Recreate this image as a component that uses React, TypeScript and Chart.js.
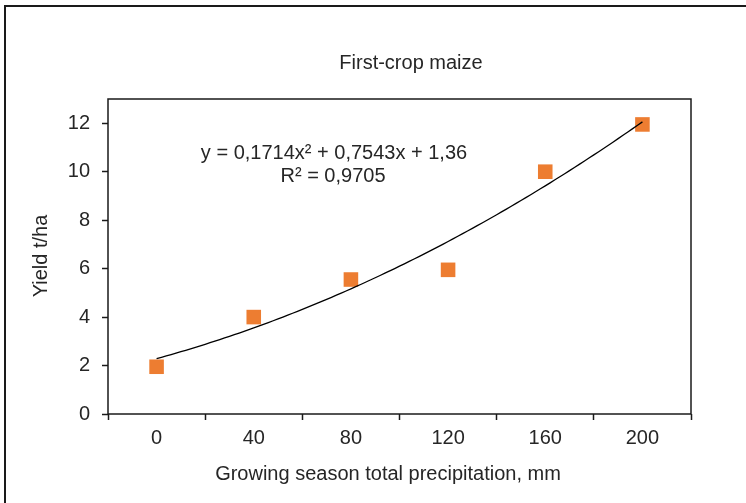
import { useEffect, useRef } from 'react';
import { Chart, registerables } from 'chart.js';

Chart.register(...registerables);

const categories = ['0', '40', '80', '120', '160', '200'];
const yieldValues = [1.95, 4.0, 5.55, 5.95, 10.0, 11.95];
const yTicks = [0, 2, 4, 6, 8, 10, 12];
const yMax = 13;
// Excel polynomial trendline (order 2) coefficients: a, b, c  (x = category index 1..6)
const trendCoefficients = [0.1714, 0.7543, 1.36];
const titleText = 'First-crop maize';
const equationLines = ['y = 0,1714x² + 0,7543x + 1,36', 'R² = 0,9705'];
const xTitle = 'Growing season total precipitation, mm';
const yTitle = 'Yield t/ha';

const FONT = '"Liberation Sans", Arial, sans-serif';
const TEXT = '#262626';
const FS = 20;

function trendPoints() {
  const pts: { x: number; y: number }[] = [];
  const n = categories.length;
  const steps = 100;
  for (let i = 0; i <= steps; i++) {
    const x = 1 + ((n - 1) * i) / steps;
    const [a, b, c] = trendCoefficients;
    pts.push({ x, y: a * x * x + b * x + c });
  }
  return pts;
}

const decor = {
  id: 'decor',
  beforeDraw(chart: any) {
    const ctx = chart.ctx;
    ctx.save();
    ctx.fillStyle = '#ffffff';
    ctx.fillRect(0, 0, chart.width, chart.height);
    ctx.strokeStyle = '#1a1a1a';
    ctx.lineWidth = 2;
    ctx.strokeRect(5, 6, 900, 700);
    ctx.restore();
  },
  afterDraw(chart: any) {
    const ctx = chart.ctx;
    const a = chart.chartArea;
    ctx.save();
    ctx.strokeStyle = '#1a1a1a';
    ctx.lineWidth = 1.5;
    ctx.strokeRect(a.left, a.top, a.right - a.left, a.bottom - a.top);

    ctx.fillStyle = TEXT;
    ctx.textAlign = 'center';
    ctx.textBaseline = 'middle';
    ctx.font = `${FS}px ${FONT}`;
    ctx.fillText(titleText, 411, 63);
    ctx.fillText(equationLines[0], 334, 153);
    ctx.fillText(equationLines[1], 333, 176);
    ctx.fillText(xTitle, 388, 474);
    ctx.translate(41, 256);
    ctx.rotate(-Math.PI / 2);
    ctx.fillText(yTitle, 0, 0);
    ctx.restore();
  },
};

export default function App() {
  const ref = useRef<HTMLCanvasElement | null>(null);
  useEffect(() => {
    if (!ref.current) return;
    const chart = new Chart(ref.current, {
      type: 'scatter',
      data: {
        datasets: [
          {
            type: 'line',
            label: 'Trend',
            data: trendPoints(),
            borderColor: '#000000',
            borderWidth: 1.3,
            pointRadius: 0,
            fill: false,
            tension: 0,
            order: 0,
          } as any,
          {
            label: 'Yield',
            data: yieldValues.map((v, i) => ({ x: i + 1, y: v })),
            pointStyle: 'rect',
            pointRadius: 10.3,
            pointBackgroundColor: '#ED7D31',
            pointBorderWidth: 0,
            backgroundColor: '#ED7D31',
            borderColor: '#ED7D31',
            order: 1,
          },
        ],
      },
      options: {
        responsive: false,
        animation: false,
        devicePixelRatio: 1,
        layout: { padding: { top: 99, right: 55, left: 0, bottom: 0 } },
        plugins: {
          legend: { display: false },
          tooltip: { enabled: false },
          title: { display: false },
        },
        scales: {
          x: {
            type: 'linear',
            min: 0.5,
            max: categories.length + 0.5,
            afterBuildTicks: (s: any) => {
              const t: any[] = [];
              for (let i = 0; i < categories.length; i++) {
                t.push({ value: i + 0.5 });
                t.push({ value: i + 1 });
              }
              t.push({ value: categories.length + 0.5 });
              s.ticks = t;
            },
            afterFit: (s: any) => {
              s.height = 89;
            },
            ticks: {
              autoSkip: false,
              maxRotation: 0,
              padding: 6,
              color: TEXT,
              font: { family: FONT, size: FS },
              callback: (v: any) => (Number.isInteger(v) ? categories[v - 1] : ''),
            },
            grid: {
              drawOnChartArea: false,
              tickLength: 6,
              tickWidth: 1.5,
              tickColor: (c: any) => (Number.isInteger(c.tick?.value) ? 'rgba(0,0,0,0)' : '#1a1a1a'),
            },
            border: { display: false },
          },
          y: {
            type: 'linear',
            min: 0,
            max: yMax,
            afterBuildTicks: (s: any) => {
              s.ticks = yTicks.map((v) => ({ value: v }));
            },
            afterFit: (s: any) => {
              s.width = 108;
            },
            ticks: {
              padding: 12,
              color: TEXT,
              font: { family: FONT, size: FS },
            },
            grid: {
              drawOnChartArea: false,
              tickLength: 6,
              tickWidth: 1.5,
              tickColor: '#1a1a1a',
            },
            border: { display: false },
          },
        },
      },
      plugins: [decor],
    });
    return () => chart.destroy();
  }, []);
  return (
    <div style={{ position: 'absolute', left: 0, top: 0, width: 746, height: 503 }}>
      <canvas ref={ref} width={746} height={503} />
    </div>
  );
}
